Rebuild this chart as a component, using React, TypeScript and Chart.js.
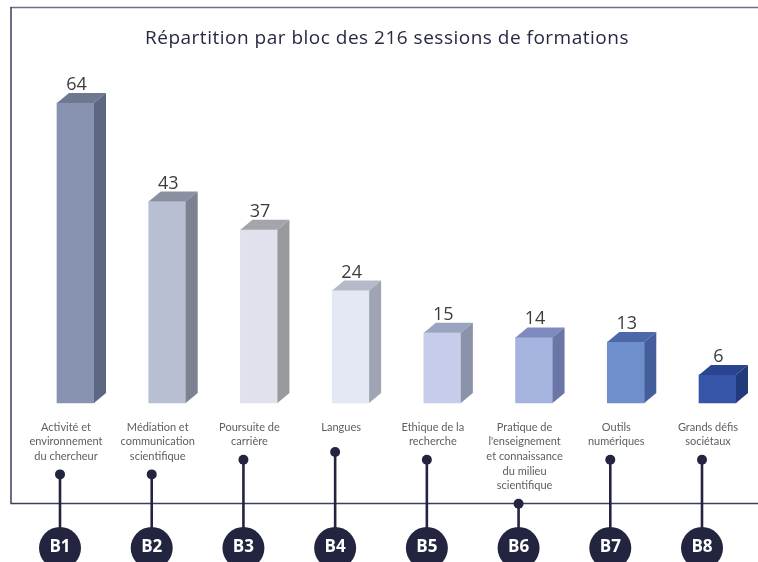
import React, { useEffect, useRef } from 'react';
import { Chart, registerables } from 'chart.js';

Chart.register(...registerables);

const chartTitle = 'Répartition par bloc des 216 sessions de formations';
const blocs = ['B1', 'B2', 'B3', 'B4', 'B5', 'B6', 'B7', 'B8'];
const categories = [
  ['Activité et', 'environnement', 'du chercheur'],
  ['Médiation et', 'communication', 'scientifique'],
  ['Poursuite de', 'carrière'],
  ['Langues'],
  ['Ethique de la', 'recherche'],
  ['Pratique de', "l'enseignement", 'et connaissance', 'du milieu', 'scientifique'],
  ['Outils', 'numériques'],
  ['Grands défis', 'sociétaux'],
];
const sessions = [64, 43, 37, 24, 15, 14, 13, 6];

const frontColors = ['#8793b0', '#b9bfd3', '#dfe2ec', '#e4e8f5', '#c5cdeb', '#a5b3df', '#6f8fcc', '#3655a8'];
const sideColors = ['#5d6683', '#7c8291', '#999a9e', '#a0a5b5', '#8a93a8', '#6a76a6', '#435e9a', '#203a7a'];
const topColors = ['#6e7890', '#8a90a0', '#a3a5ab', '#b5bacb', '#9aa3bf', '#7d8ac0', '#4d68a8', '#2a4590'];

const NAVY = '#23243f';
const DX = 12;
const DY = 10;

const framePlugin = {
  id: 'frame',
  beforeDraw(chart: any) {
    const ctx = chart.ctx;
    ctx.save();
    ctx.fillStyle = '#ffffff';
    ctx.fillRect(0, 0, chart.width, chart.height);
    ctx.lineWidth = 1.5;
    ctx.strokeStyle = '#6e7080';
    ctx.beginPath();
    ctx.moveTo(10.5, 7.5);
    ctx.lineTo(chart.width, 7.5);
    ctx.stroke();
    ctx.strokeStyle = '#3c3f5c';
    ctx.beginPath();
    ctx.moveTo(11, 7);
    ctx.lineTo(11, 503.5);
    ctx.lineTo(chart.width, 503.5);
    ctx.stroke();
    ctx.fillStyle = '#262941';
    ctx.font = '500 19px "Open Sans"';
    try { (ctx as any).letterSpacing = '0.5px'; } catch (e) {}
    ctx.textAlign = 'center';
    ctx.textBaseline = 'middle';
    ctx.fillText(chartTitle, 387, 39);
    try { (ctx as any).letterSpacing = '0px'; } catch (e) {}
    ctx.restore();
  },
};

const cubePlugin = {
  id: 'cube',
  afterDatasetsDraw(chart: any) {
    const ctx = chart.ctx;
    const meta = chart.getDatasetMeta(0);
    ctx.save();
    meta.data.forEach((bar: any, i: number) => {
      const { x, y, base, width } = bar.getProps(['x', 'y', 'base', 'width'], true);
      const l = x - width / 2;
      const r = x + width / 2;
      ctx.fillStyle = topColors[i];
      ctx.beginPath();
      ctx.moveTo(l, y);
      ctx.lineTo(r, y);
      ctx.lineTo(r + DX, y - DY);
      ctx.lineTo(l + DX, y - DY);
      ctx.closePath();
      ctx.fill();
      ctx.fillStyle = sideColors[i];
      ctx.beginPath();
      ctx.moveTo(r, y);
      ctx.lineTo(r + DX, y - DY);
      ctx.lineTo(r + DX, base - DY);
      ctx.lineTo(r, base);
      ctx.closePath();
      ctx.fill();
      ctx.fillStyle = '#3c3c3c';
      ctx.font = '18px "Open Sans"';
      ctx.textAlign = 'center';
      ctx.textBaseline = 'alphabetic';
      ctx.fillText(String(sessions[i]), x + 1, y - 13);
    });
    ctx.restore();
  },
};

const labelPlugin = {
  id: 'labels',
  afterDraw(chart: any) {
    const ctx = chart.ctx;
    const meta = chart.getDatasetMeta(0);
    ctx.save();
    const lineH = 14.7;
    const firstY = 427;
    meta.data.forEach((bar: any, i: number) => {
      const { x } = bar.getProps(['x'], true);
      const lx = x - 9.5;
      const lines = categories[i];
      ctx.fillStyle = '#5e5e5e';
      ctx.font = '11px Lato';
      ctx.textAlign = 'center';
      ctx.textBaseline = 'middle';
      lines.forEach((t, k) => ctx.fillText(t, lx, firstY + k * lineH));
      const dotX = x - 15.5;
      const dotY = Math.max(firstY + (lines.length - 1) * lineH + 18, 452);
      const cy = 548;
      ctx.strokeStyle = NAVY;
      ctx.lineWidth = 2.6;
      ctx.beginPath();
      ctx.moveTo(dotX, dotY);
      ctx.lineTo(dotX, cy);
      ctx.stroke();
      ctx.fillStyle = NAVY;
      ctx.beginPath();
      ctx.arc(dotX, dotY, 5, 0, Math.PI * 2);
      ctx.fill();
      ctx.beginPath();
      ctx.arc(dotX, cy, 21, 0, Math.PI * 2);
      ctx.fill();
      ctx.fillStyle = '#ffffff';
      ctx.font = 'bold 17px "Open Sans"';
      ctx.fillText(blocs[i], dotX, cy - 1);
    });
    ctx.restore();
  },
};

export default function App() {
  const ref = useRef<HTMLCanvasElement>(null);
  useEffect(() => {
    if (!ref.current) return;
    const chart = new Chart(ref.current, {
      type: 'bar',
      data: {
        labels: blocs,
        datasets: [
          {
            data: sessions,
            backgroundColor: frontColors,
            borderWidth: 0,
            barThickness: 37,
            clip: false as any,
          },
        ],
      },
      options: {
        animation: false,
        responsive: false,
        maintainAspectRatio: false,
        layout: { padding: { left: 75.5, right: 40.5, top: 75, bottom: 159 } },
        plugins: { legend: { display: false }, tooltip: { enabled: false }, title: { display: false } },
        scales: {
          x: { display: false, offset: false },
          y: { display: false, min: 0, max: 70 },
        },
      },
      plugins: [framePlugin, cubePlugin, labelPlugin],
    });
    return () => chart.destroy();
  }, []);
  return (
    <div style={{ position: 'absolute', left: 0, top: 0, width: 758, height: 562 }}>
      <canvas ref={ref} width={758} height={562} style={{ display: 'block', width: 758, height: 562 }} />
    </div>
  );
}
